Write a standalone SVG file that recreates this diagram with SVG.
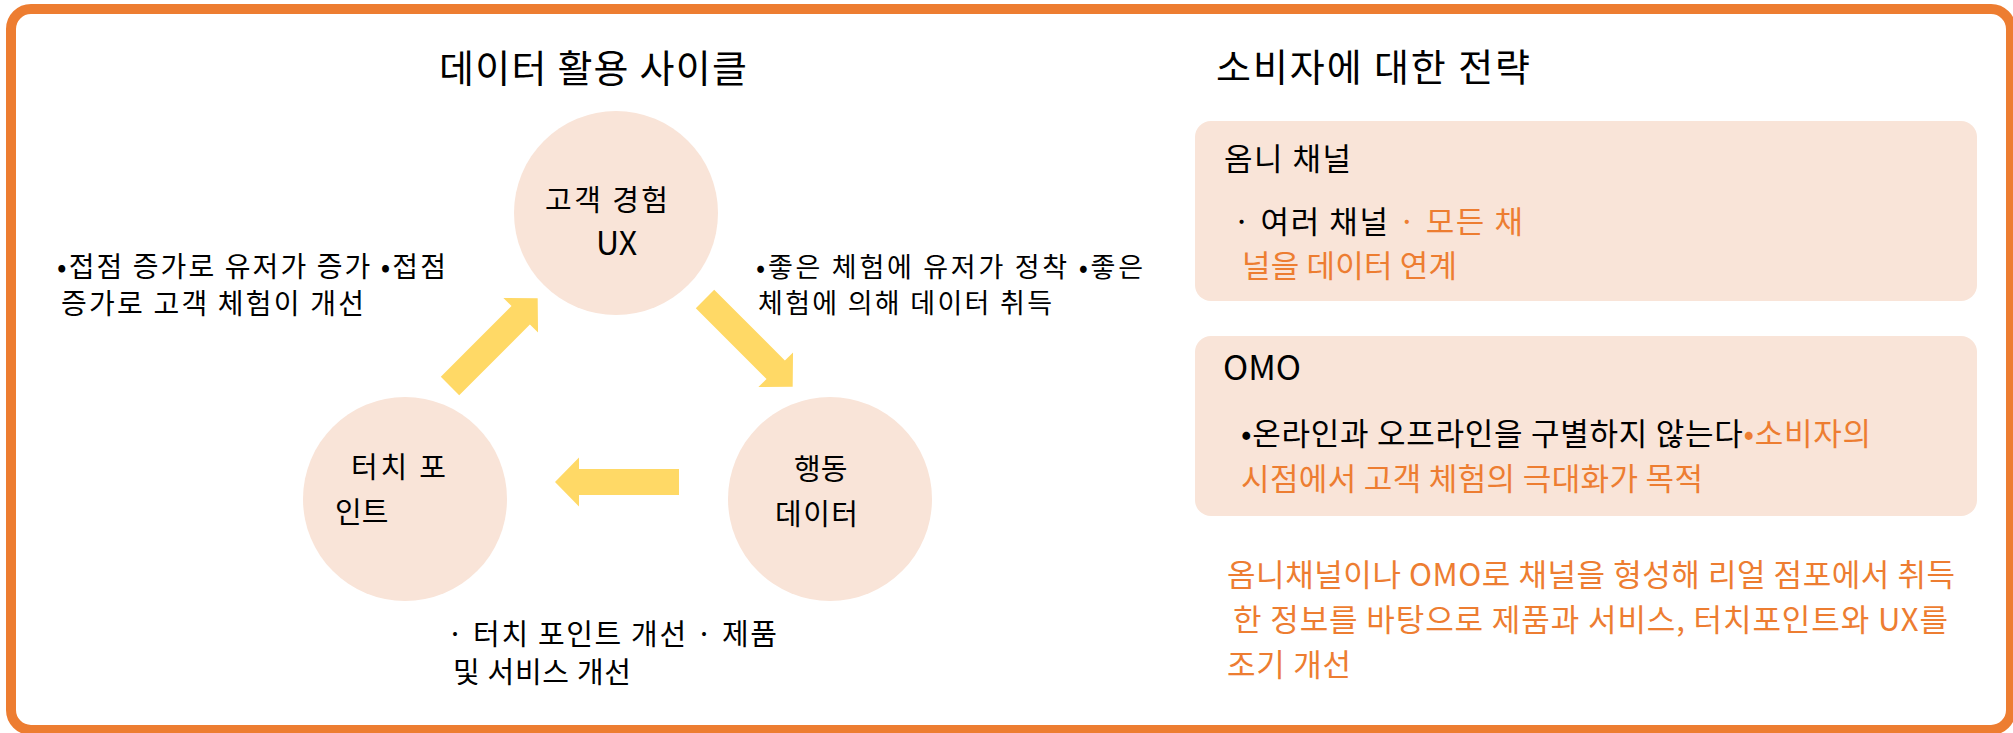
<svg xmlns="http://www.w3.org/2000/svg" width="2013" height="733" viewBox="0 0 2013 733">
<defs>
<style>
text{font-family:"Noto Sans CJK KR","Noto Sans",sans-serif;fill:#000}
.title{font-size:38px}
.node{font-size:29px}
.desc{font-size:29px}
.ldesc{font-size:28px}
.rdesc{font-size:27px}
.rt{font-size:31px}
.or{fill:#ED7D31}
.circle{fill:#F9E4D8}
.box{fill:#F9E4D8}
.arrow{fill:#FFD966}
</style>
<path id="arr" d="M0,-13 H100 V-24.5 L124,0 L100,24.5 V13 H0 Z"/>
</defs>
<rect x="11" y="9" width="2000" height="721" rx="20" fill="#fff" stroke="#ED7D31" stroke-width="10"/>

<g id="titles">
<text class="title" x="439" y="82" textLength="308">데이터 활용 사이클</text>
<text class="title" x="1216" y="81" textLength="314">소비자에 대한 전략</text>
</g>

<g id="connectors">
<use href="#arr" class="arrow" transform="translate(450,386) rotate(-45)"/>
<use href="#arr" class="arrow" transform="translate(705,299) rotate(45)"/>
<use href="#arr" class="arrow" transform="translate(679,482) rotate(180)"/>
</g>

<g id="node-ux">
<circle class="circle" cx="616" cy="213" r="102"/>
<text class="node" x="545" y="211" textLength="123">고객 경험</text>
<text class="node" x="596" y="255" style="font-size:32px">UX</text>
</g>
<g id="node-touch">
<circle class="circle" cx="405" cy="499" r="102"/>
<text class="node" x="351" y="478" textLength="95">터치 포</text>
<text class="node" x="335" y="523">인트</text>
</g>
<g id="node-data">
<circle class="circle" cx="830" cy="499" r="102"/>
<text class="node" x="794" y="480">행동</text>
<text class="node" x="775" y="525" textLength="83">데이터</text>
</g>

<g id="label-left">
<text class="ldesc" x="57" y="277" textLength="389">•접점 증가로 유저가 증가 •접점</text>
<text class="ldesc" x="61" y="314" textLength="303">증가로 고객 체험이 개선</text>
</g>
<g id="label-right">
<text class="rdesc" x="756" y="277" textLength="387">•좋은 체험에 유저가 정착 •좋은</text>
<text class="rdesc" x="758" y="313" textLength="294">체험에 의해 데이터 취득</text>
</g>
<g id="label-bottom">
<text class="desc" x="447" y="645" textLength="330">· 터치 포인트 개선 · 제품</text>
<text class="desc" x="453" y="683" textLength="178">및 서비스 개선</text>
</g>

<g id="box-omni">
<rect class="box" x="1195" y="121" width="782" height="180" rx="16"/>
<text class="rt" x="1224" y="170" textLength="127">옴니 채널</text>
<text class="rt" x="1233" y="233" textLength="290">· 여러 채널 <tspan class="or">· 모든 채</tspan></text>
<text class="rt or" x="1242" y="277" textLength="215">널을 데이터 연계</text>
</g>
<g id="box-omo">
<rect class="box" x="1195" y="336" width="782" height="180" rx="16"/>
<text class="rt" x="1223" y="380" style="font-size:34px">OMO</text>
<text class="rt" x="1241" y="445" textLength="630">•온라인과 오프라인을 구별하지 않는다<tspan class="or">•소비자의</tspan></text>
<text class="rt or" x="1241" y="490" textLength="462">시점에서 고객 체험의 극대화가 목적</text>
</g>
<g id="summary">
<text class="rt or" x="1227" y="586" textLength="728">옴니채널이나 OMO로 채널을 형성해 리얼 점포에서 취득</text>
<text class="rt or" x="1233" y="631" textLength="715">한 정보를 바탕으로 제품과 서비스, 터치포인트와 UX를</text>
<text class="rt or" x="1227" y="676" textLength="124">조기 개선</text>
</g>
</svg>
